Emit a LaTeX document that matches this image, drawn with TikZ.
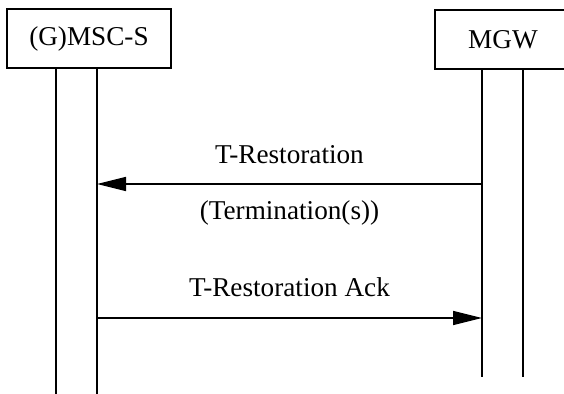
\documentclass[tikz,border=0pt]{standalone}
\usepackage{fontspec}
\setmainfont{Liberation Serif}
\usetikzlibrary{arrows.meta}

\tikzset{
  entity/.style={draw, line width=1pt, minimum width=82pt, minimum height=29.5pt, inner sep=0pt},
  life/.style={line width=.85pt},
  msg/.style={line width=.85pt, -{Triangle[length=14.5pt,width=7pt]}}
}

\begin{document}
\begin{tikzpicture}[x=.5pt,y=-.5pt,font=\fontsize{13.6}{16}\selectfont]

\useasboundingbox (0,0) rectangle (564,394);
\clip (0,0) rectangle (564,394);

% entities
\node[entity] (gmsc) at (89,39) {(G)MSC-S};
\node[entity, minimum width=68pt] (mgw) at (503,40) {MGW};

% lifelines
\coordinate (gmscA) at (56,394);
\coordinate (gmscB) at (97,394);
\coordinate (mgwA) at (482,377);
\coordinate (mgwB) at (523,377);
\draw[life] (gmscA |- gmsc.south) -- (gmscA);
\draw[life] (gmscB |- gmsc.south) -- (gmscB);
\draw[life] (mgwA |- mgw.south) -- (mgwA);
\draw[life] (mgwB |- mgw.south) -- (mgwB);

% messages
\coordinate (restFrom) at (482,184);
\coordinate (restTo) at (97,184);
\coordinate (ackFrom) at (97,318);
\coordinate (ackTo) at (482,318);

\draw[msg] (restFrom) -- (restTo)
  node[midway, yshift=14.5pt] {T-Restoration}
  node[midway, yshift=-14.5pt] {(Termination(s))};
\draw[msg] (ackFrom) -- (ackTo)
  node[midway, yshift=15.5pt] {T-Restoration Ack};

\end{tikzpicture}
\end{document}
